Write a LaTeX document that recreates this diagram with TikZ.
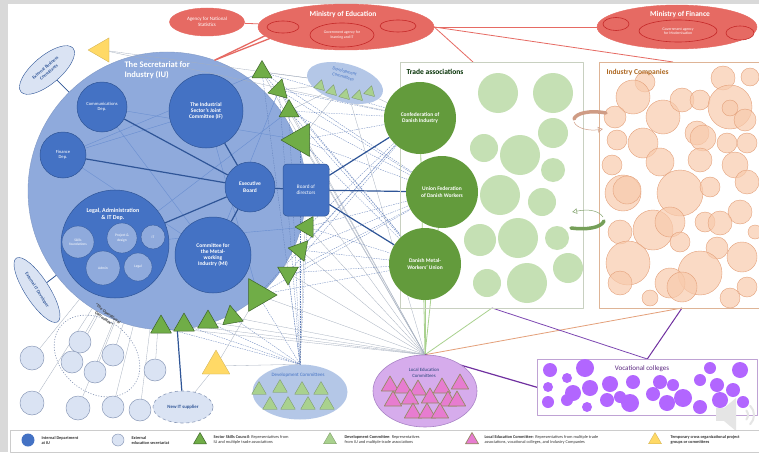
\documentclass[tikz,border=0pt]{standalone}
\usepackage{fontspec}
\setmainfont{Carlito}
\usetikzlibrary{shapes.geometric,arrows.meta}
\definecolor{iublue}{RGB}{143,170,220}
\definecolor{deptblue}{RGB}{68,114,196}
\definecolor{deptline}{RGB}{47,85,151}
\definecolor{extblue}{RGB}{218,227,243}
\definecolor{extline}{RGB}{140,155,185}
\definecolor{devblue}{RGB}{180,199,231}
\definecolor{sscgreen}{RGB}{112,173,71}
\definecolor{sscline}{RGB}{60,100,40}
\definecolor{devgreen}{RGB}{169,209,142}
\definecolor{tagreen}{RGB}{99,155,60}
\definecolor{talight}{RGB}{197,224,180}
\definecolor{taline}{RGB}{200,208,192}
\definecolor{minred}{RGB}{230,106,99}
\definecolor{minline}{RGB}{196,40,40}
\definecolor{peach}{RGB}{248,203,173}
\definecolor{peachline}{RGB}{228,160,122}
\definecolor{indline}{RGB}{222,180,150}
\definecolor{colpurple}{RGB}{178,102,255}
\definecolor{lepurple}{RGB}{214,172,236}
\definecolor{darkpurple}{RGB}{112,48,160}
\definecolor{lepink}{RGB}{231,124,208}
\definecolor{letriline}{RGB}{150,138,100}
\definecolor{tempyellow}{RGB}{255,217,102}
\definecolor{meshgray}{RGB}{165,175,190}
\definecolor{meshblue}{RGB}{95,125,185}
\definecolor{pagegray}{RGB}{217,217,217}
\pgfdeclarelayer{paper}
\pgfdeclarelayer{wires}
\pgfsetlayers{paper,wires,main}
\tikzset{
	dept/.style={circle,fill=deptblue,draw=deptline,line width=0.5pt,text=white,align=center,inner sep=0pt,font=\bfseries\fontsize{5.5}{6.3}\selectfont},
	subdept/.style={circle,fill=iublue,draw=deptline,line width=0.3pt,text=white,align=center,inner sep=0pt,font=\fontsize{3.6}{4.2}\selectfont},
	ssctri/.style={regular polygon,regular polygon sides=3,fill=sscgreen,draw=sscline,line width=0.5pt,inner sep=0pt,minimum size=23pt},
	devtri/.style={regular polygon,regular polygon sides=3,fill=devgreen,draw=devgreen!70!black,line width=0.3pt,inner sep=0pt,minimum size=17pt},
	letri/.style={regular polygon,regular polygon sides=3,fill=lepink,draw=letriline,line width=0.7pt,inner sep=0pt,minimum size=20pt},
	yeltri/.style={regular polygon,regular polygon sides=3,fill=tempyellow,draw=tempyellow!80!black,line width=0.3pt,inner sep=0pt,minimum size=28pt},
	extsec/.style={circle,fill=extblue,draw=extline,line width=0.5pt,inner sep=0pt},
	redblob/.style={ellipse,fill=minred,draw=minred,text=white,align=center,inner sep=0pt,font=\fontsize{5}{5.6}\selectfont},
	redin/.style={ellipse,fill=minred,draw=minline,line width=0.6pt,text=white,align=center,inner sep=0pt,font=\fontsize{3.8}{4.3}\selectfont},
	tabig/.style={circle,fill=tagreen,text=white,align=center,inner sep=0pt,minimum size=72pt,font=\bfseries\fontsize{5.5}{6.5}\selectfont},
	boxtitle/.style={anchor=west,font=\bfseries\fontsize{7.5}{8}\selectfont},
	link/.style={draw=deptline,line width=1.2pt},
	iuthin/.style={draw=deptblue!80,line width=0.4pt},
	mesh/.style={draw=meshgray,line width=0.3pt},
	meshdash/.style={draw=meshblue,line width=0.3pt,dash pattern=on 1.5pt off 1pt},
	redlink/.style={draw=minred,line width=0.8pt},
	legtext/.style={anchor=west,align=left,font=\fontsize{4.3}{5}\selectfont,text=black!80},
}
\begin{document}
\begin{tikzpicture}[x=1pt,y=-1pt,line join=round,line cap=round,>=Stealth]
	\useasboundingbox (0,0) rectangle (759,452);
	\begin{pgfonlayer}{paper}
		\fill[pagegray] (0,0) rectangle (759,452);
		\fill[white] (8,4) rectangle (759,452);
		\node[circle,fill=iublue,draw=iublue!90!black,line width=0.4pt,minimum size=278pt,inner sep=0pt] (iu) at (167,191) {};
	\end{pgfonlayer}
	\node[anchor=west,align=left,text=white,font=\bfseries\fontsize{8.5}{10}\selectfont] (iutitle) at (121,70) {The Secretariat for\\Industry (IU)};
	\node[dept,minimum size=50pt,font=\fontsize{4.6}{5.4}\selectfont] (com) at (102,107) {Communications\\Dep.};
	\node[dept,minimum size=74pt] (jc) at (206,111) {The Industrial\\Sector's Joint\\Committee (IF)};
	\node[dept,minimum size=46pt,font=\fontsize{4.6}{5.4}\selectfont] (fin) at (63,155) {Finance\\Dep.};
	\node[dept,minimum size=50pt] (exe) at (250,187) {Executive\\Board};
	\node[dept,rectangle,rounded corners=4pt,minimum width=46pt,minimum height=52pt,font=\fontsize{5.2}{6}\selectfont] (bod) at (306,190) {Board of\\directors};
	\node[dept,minimum size=108pt] (lad) at (115,244) {};
	\node[text=white,align=center,font=\bfseries\fontsize{6}{7}\selectfont] (ladtitle) at (113,214) {Legal, Administration\\\& IT Dep.};
	\node[subdept,minimum size=32pt] (skf) at (78,242) {Skills\\foundations};
	\node[subdept,minimum size=30pt] (prd) at (122,238) {Project \&\\design};
	\node[subdept,minimum size=24pt] (itd) at (153,237) {IT};
	\node[subdept,minimum size=34pt] (adm) at (103,268) {Admin};
	\node[subdept,minimum size=28pt] (leg) at (138,267) {Legal};
	\node[dept,minimum size=76pt] (mi) at (213,255) {Committee for\\the Metal-\\working\\Industry (MI)};
	\foreach \x/\y/\s/\a [count=\i] in {262/72/23/0,279/90/23/-15,289/111/23/0,300/140/38/90,307/227/24/90,300/250/24/80,288/273/24/60,258/295/38/30,232/317/24/10,208/322/24/0,184/325/24/0,161/327/24/0}
		\node[ssctri,minimum size={\s*1pt},rotate=\a] (t\i) at (\x,\y) {};
	\node[redblob,minimum width=75pt,minimum height=28pt] (ans) at (207,22) {Agency for National\\Statistics};
	\node[redblob,minimum width=176pt,minimum height=46pt] (moe) at (346,27) {};
	\node[text=white,font=\bfseries\fontsize{7.5}{8}\selectfont] (moetitle) at (343,14) {Ministry of Education};
	\node[redin,minimum width=32pt,minimum height=12pt] (moe1) at (283,27) {};
	\node[redin,minimum width=64pt,minimum height=24pt] (moe2) at (342,35) {Government agency for\\learning and IT};
	\node[redin,minimum width=36pt,minimum height=12pt] (moe3) at (398,26) {};
	\node[redblob,minimum width=160pt,minimum height=44pt] (mof) at (677,27) {};
	\node[text=white,font=\bfseries\fontsize{7.5}{8}\selectfont] (moftitle) at (680,14) {Ministry of Finance};
	\node[redin,minimum width=26pt,minimum height=13pt] (mof1) at (616,24) {};
	\node[redin,minimum width=78pt,minimum height=22pt] (mof2) at (678,31) {Government agency\\for Modernisation};
	\node[redin,minimum width=28pt,minimum height=14pt] (mof3) at (740,33) {};
	\coordinate (tatop) at (473,62);
	\coordinate (indtop) at (673,62);
	\coordinate (tabot) at (492,308);
	\coordinate (indbot) at (682,308);
	\node[draw=taline,line width=0.6pt,minimum width=183pt,minimum height=246pt,anchor=north west,inner sep=0pt] (ta) at (400,62) {};
	\node[boxtitle,text=black!70!green!60!black] (tatitle) at (403,72) {Trade associations};
	\foreach \x/\y/\r [count=\i] in {498/93/20,553/93/20,553/133/15,484/148/14,520/155/20,553/170/12,500/195/20,542/202/14,480/240/16,518/238/20,557/238/12,487/283/14,527/283/20,568/268/15}
		\node[circle,fill=talight,inner sep=0pt,minimum size={2*\r*1pt}] (tl\i) at (\x,\y) {};
	\node[tabig] (con) at (420,118) {Confederation of\\Danish Industry};
	\node[tabig] (uni) at (442,192) {Union Federation\\of Danish Workers};
	\node[tabig] (met) at (425,264) {Danish Metal-\\Workers' Union};
	\node[draw=indline,line width=0.6pt,minimum width=165pt,minimum height=246pt,anchor=north west,inner sep=0pt] (ind) at (599,62) {};
	\foreach \x/\y/\r [count=\i] in {723/78/12,750/77/9,645/82/10,633/97/17,663/117/17,682/100/12,700/100/10,730/107/22,730/108/8,615/117/11,617/140/10,643/143/15,697/133/12,703/138/13,727/143/10,747/143/10,745/120/11,660/162/14,700/160/12,612/165/10,735/165/13,623/193/18,627/190/14,680/193/23,710/187/10,747/182/12,740/212/12,653/230/20,670/222/15,705/222/10,720/223/12,620/232/12,680/242/10,717/248/11,755/232/7,628/263/22,700/273/22,742/257/15,670/283/15,682/287/15,747/287/10,620/283/12,650/298/8,730/298/10}
		\node[circle,fill=peach,fill opacity=0.7,draw=peachline,line width=0.4pt,inner sep=0pt,minimum size={2*\r*1pt}] (co\i) at (\x,\y) {};
	\node[boxtitle,text=brown!60!orange!80!black] (indtitle) at (603,72) {Industry Companies};
	\node[draw=darkpurple!45,line width=0.6pt,minimum width=220pt,minimum height=56pt,anchor=north west,inner sep=0pt] (vc) at (537,359) {};
	\foreach \x/\y/\r [count=\i] in {550/370/7,585/368/9,567/378/5,548/387/5,573/393/8,590/388/8,610/384/8,633/382/7,660/382/7,673/385/6,700/380/6,710/368/6,740/370/8,717/385/7,548/402/6,567/400/6,587/407/5,607/400/7,630/403/9,653/394/7,667/403/8,683/398/9,700/407/7,720/400/8,733/390/7,743/402/6,620/397/6}
		\node[circle,fill=colpurple,inner sep=0pt,minimum size={2*\r*1pt}] (vc\i) at (\x,\y) {};
	\node[text=darkpurple!80!black,font=\fontsize{7}{8}\selectfont] (vctitle) at (642,369) {Vocational colleges};
	\node[ellipse,fill=lepurple,draw=darkpurple!60,line width=0.6pt,minimum width=104pt,minimum height=72pt] (le) at (425,391) {};
	\node[align=center,text=deptline!80!black,font=\fontsize{4.8}{5.6}\selectfont] (letitle) at (424,373) {Local Education\\Committees};
	\foreach \x/\y [count=\i] in {390/386,403/388,418/390,442/388,460/384,430/398,393/401,410/399,448/401,457/401,413/413,427/413,440/413}
		\node[letri] (lt\i) at (\x,\y) {};
	\node[ellipse,fill=devblue,minimum width=95pt,minimum height=55pt] (dc) at (300,392) {};
	\node[text=deptblue,font=\fontsize{5}{6}\selectfont] (dctitle) at (298,375) {Development Committees};
	\foreach \x/\y [count=\i] in {259/390,280/388,302/390,321/390,270/405,288/405,308/405,327/405}
		\node[devtri] (dt\i) at (\x,\y) {};
	\node[ellipse,fill=devblue,rotate=-15,minimum width=78pt,minimum height=38pt] (dtop) at (345,83) {};
	\node[align=center,rotate=-15,text=deptblue,font=\fontsize{4.5}{5.6}\selectfont] (dtoptitle) at (344,74) {Development\\Committees};
	\foreach \x/\y [count=\i] in {320/86,332/91,345/95,358/96,370/92}
		\node[devtri,minimum size=13pt,rotate=-15] (du\i) at (\x,\y) {};
	\node[ellipse,fill=extblue,draw=deptline,line width=0.4pt,rotate=40,minimum width=68pt,minimum height=28pt,align=center,text=deptline,font=\bfseries\fontsize{4.5}{5.6}\selectfont] (ebc) at (47,70) {External Business\\Consultants};
	\node[ellipse,fill=extblue,draw=deptline,line width=0.4pt,rotate=-57,minimum width=76pt,minimum height=24pt,text=deptline,font=\bfseries\fontsize{4.5}{5.2}\selectfont] (eitd) at (37,290) {External IT Developer};
	\node[ellipse,fill=extblue,draw=extline,dashed,line width=0.6pt,minimum width=60pt,minimum height=32pt,text=deptline,font=\bfseries\fontsize{4.8}{5.5}\selectfont] (nit) at (183,407) {New IT supplier};
	\node[yeltri,rotate=90] (yt1) at (102,50) {};
	\node[yeltri,minimum size=32pt] (yt2) at (216,366) {};
	\draw[extline,dotted,line width=0.7pt,rotate around={-40:(97,356)}] (97,356) ellipse [x radius=47pt,y radius=36pt];
	\node[align=center,rotate=-38,text=black!75,font=\bfseries\fontsize{4.3}{6.2}\selectfont] (opc) at (106,316) {``The Operational\\Committee''};
	\foreach \x/\y/\r [count=\i] in {32/358/12,80/342/11,72/362/11,113/355/11,95/372/11,155/370/11,32/403/12,78/408/12,113/407/11,140/410/11}
		\node[extsec,minimum size={2*\r*1pt}] (es\i) at (\x,\y) {};
	\fill[black!10] (716,408) rectangle (724,421);
	\fill[black!10] (724,408) -- (736,398) -- (736,431) -- (724,421) -- cycle;
	\draw[black!10,line width=2pt] (741,415) ++(-40:7pt) arc[start angle=-40,end angle=40,radius=7pt];
	\draw[black!10,line width=2pt] (741,415) ++(-45:13pt) arc[start angle=-45,end angle=45,radius=13pt];
	\draw[black!20,line width=0.4pt] (10,430) rectangle (759,452);
	\node[circle,fill=deptblue,minimum size=13pt,inner sep=0pt] (lg1) at (28,440) {};
	\node[legtext,font=\bfseries\fontsize{4.3}{5}\selectfont] (lx1) at (38,440) {Internal Department\\at IU};
	\node[extsec,minimum size=12pt] (lg2) at (118,440) {};
	\node[legtext,font=\bfseries\fontsize{4.3}{5}\selectfont] (lx2) at (128,440) {External\\education secretariat};
	\node[ssctri,minimum size=15pt] (lg3) at (200,440) {};
	\node[legtext] (lx3) at (210,440) {\textbf{Sector Skills Council}: Representatives from\\IU and multiple trade associations};
	\node[devtri,minimum size=15pt] (lg4) at (330,440) {};
	\node[legtext] (lx4) at (341,440) {\textbf{Development Committee}: Representatives\\from IU and multiple trade associations};
	\node[letri,minimum size=15pt] (lg5) at (472,440) {};
	\node[legtext] (lx5) at (481,440) {\textbf{Local Education Committee}: Representatives from multiple trade\\associations, vocational colleges, and Industry Companies};
	\node[yeltri,minimum size=15pt] (lg6) at (655,440) {};
	\node[legtext,font=\bfseries\fontsize{4.3}{5}\selectfont] (lx6) at (667,440) {Temporary cross organizational project\\groups or committees};
	\begin{pgfonlayer}{wires}
		\foreach \i in {1,...,12} {
			\draw[mesh] (t\i) -- (le.north);
			\draw[meshdash] (t\i) -- (dc.north);
		}
		\foreach \i in {1,...,8}
			\foreach \b in {con,uni,met}
				\draw[meshdash] (t\i) -- (\b);
		\foreach \i in {1,...,4}
			\draw[mesh] (t\i) -- (dtop);
		\draw[mesh] (yt1) -- (con);
		\draw[mesh] (yt1) -- (dtop);
		\draw[mesh] (dtop) -- (con);
		\draw[mesh] (dtop) -- (le.north);
		\draw[mesh] (yt2) -- (nit);
		\draw[mesh] (yt2) -- (t8);
		\draw[mesh] (yt2) -- (dc.north);
		\draw[mesh] (bod) -- (le.north);
		\draw[mesh] (bod) -- (dc.north);
		\foreach \i in {1,...,10}
			\draw[mesh] (es\i) -- (iu);
		\foreach \a/\b in {com/t4,fin/t1,lad/t3,com/mi,fin/mi,jc/t8,lad/t5,mi/t2,jc/fin}
			\draw[iuthin] (\a) -- (\b);
		\foreach \b in {com,jc,fin,lad,mi,bod}
			\draw[link] (exe) -- (\b);
		\foreach \b in {con,uni,met}
			\draw[link] (bod) -- (\b);
		\draw[link,line width=0.8pt] (ebc) -- (iu);
		\draw[link,line width=0.8pt] (eitd) -- (iu);
		\draw[link] (iu) -- (nit);
		\draw[redlink] (ans) -- (moe);
		\draw[redlink] (moe.east) -- (mof.west);
		\draw[redlink] (moe.east) -- (tatop);
		\draw[redlink] (moe.east) -- (indtop);
		\draw[redlink,line width=1.3pt] (moe1) -- (iu.70);
		\draw[redlink,line width=1.3pt] (moe1.south) -- (iu.70);
		\foreach \b in {con,uni,met}
			\draw[devgreen,line width=0.8pt] (le.north) -- (\b);
		\draw[devgreen,line width=0.8pt] (le.north) -- (tabot);
		\draw[peachline,line width=0.8pt] (le.north) -- (indbot);
		\draw[darkpurple,line width=1.2pt] (le.north) -- (vc.west);
		\draw[colpurple!70!black,line width=0.8pt] (tabot) -- (vc.north);
		\draw[darkpurple,line width=1pt] (indbot) -- (vc.north);
	\end{pgfonlayer}
	\draw[line width=3.5pt,draw=brown!45!pink!80!gray] (606,113) .. controls (590,110) and (576,113) .. (574,119);
	\draw[line width=0.5pt,draw=brown!45!pink!80!gray,-{Latex[open,length=5pt,width=6pt]}] (574,122) .. controls (577,129) and (590,131) .. (603,129);
	\draw[line width=0.5pt,draw=devgreen!80!black,-{Latex[open,length=5pt,width=6pt]}] (603,217) .. controls (598,210) and (588,209) .. (572,212);
	\draw[line width=3.5pt,draw=sscgreen!70!gray] (571,228) .. controls (586,230) and (601,228) .. (604,221);
\end{tikzpicture}
\end{document}
